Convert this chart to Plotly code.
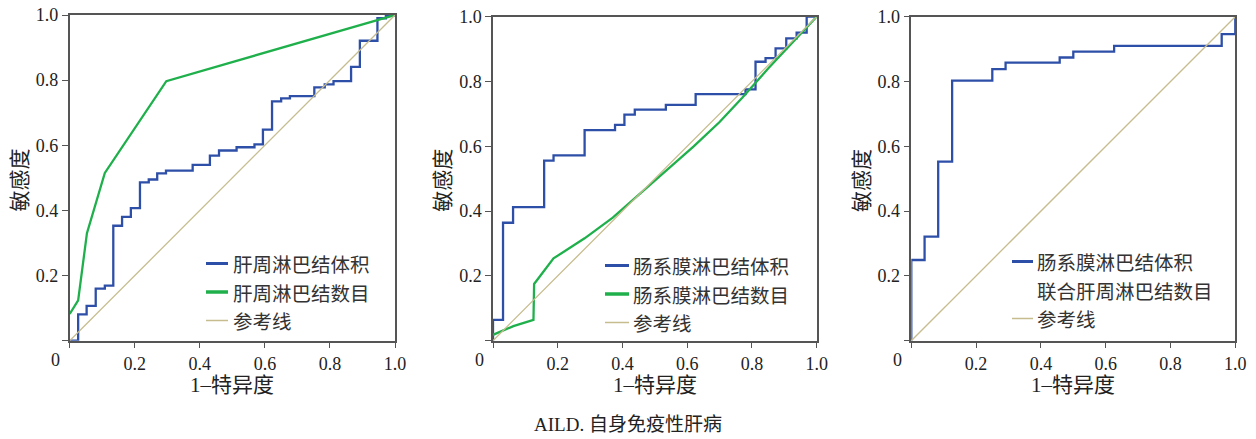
import plotly.graph_objects as go

W, H = 1256, 439

# ---------------- data ----------------
# Panel 1: 肝周淋巴结 (step points for volume, polyline for number)
p1_vol_x = [0, 0.026, 0.052, 0.080, 0.108, 0.134, 0.161, 0.188, 0.216, 0.243, 0.269, 0.296,
            0.378, 0.431, 0.459, 0.513, 0.568, 0.594, 0.622, 0.650, 0.677, 0.752, 0.784,
            0.811, 0.865, 0.892, 0.946, 0.972, 1.0]
p1_vol_y = [0, 0.081, 0.107, 0.160, 0.169, 0.353, 0.380, 0.407, 0.486, 0.495, 0.514, 0.522,
            0.540, 0.568, 0.584, 0.594, 0.603, 0.648, 0.735, 0.744, 0.751, 0.778, 0.787,
            0.797, 0.841, 0.921, 0.990, 0.999, 1.0]
p1_num_x = [0, 0.026, 0.053, 0.108, 0.297, 1.0]
p1_num_y = [0.082, 0.124, 0.330, 0.515, 0.797, 1.0]

# Panel 2: 肠系膜淋巴结
p2_vol_x = [0, 0, 0.031, 0.062, 0.158, 0.187, 0.283, 0.377, 0.406, 0.438, 0.534, 0.626,
            0.780, 0.811, 0.842, 0.873, 0.906, 0.938, 0.969, 1.0]
p2_vol_y = [0, 0.064, 0.364, 0.412, 0.556, 0.572, 0.650, 0.666, 0.698, 0.713, 0.728, 0.761,
            0.776, 0.861, 0.872, 0.902, 0.933, 0.951, 1.0, 1.0]
p2_num_x = [0, 0.063, 0.125, 0.127, 0.187, 0.283, 0.370, 0.450, 0.540, 0.620, 0.700, 0.770,
            0.850, 0.930, 1.0]
p2_num_y = [0.018, 0.045, 0.064, 0.175, 0.254, 0.316, 0.380, 0.450, 0.530, 0.600, 0.675,
            0.750, 0.840, 0.925, 1.0]

# Panel 3: 肠系膜淋巴结体积联合肝周淋巴结数目
p3_comb_x = [0, 0, 0.041, 0.083, 0.126, 0.250, 0.291, 0.458, 0.500, 0.626, 0.958, 1.0]
p3_comb_y = [0, 0.249, 0.321, 0.553, 0.803, 0.838, 0.858, 0.874, 0.892, 0.910, 0.946, 1.0]

ref_x = [0, 1]
ref_y = [0, 1]

tick_vals = [0, 0.2, 0.4, 0.6, 0.8, 1.0]
tick_text = ["", "0.2", "0.4", "0.6", "0.8", "1.0"]

p1_names = ["肝周淋巴结体积", "肝周淋巴结数目", "参考线"]
p2_names = ["肠系膜淋巴结体积", "肠系膜淋巴结数目", "参考线"]
p3_names = ["肠系膜淋巴结体积", "联合肝周淋巴结数目", "参考线"]

y_title = "敏感度"
x_title = "1–特异度"
caption = "AILD. 自身免疫性肝病"

# ---------------- styling ----------------
BLUE = "#2E4FA8"
GREEN = "#1FB04C"
REF = "#C6BC8E"
AXIS = "#555555"
TXT = "#222222"
FONT = "Liberation Serif, Noto Sans CJK SC, serif"
CJK = "Noto Sans CJK SC, sans-serif"
LEG_SIZE = 19.5
LEG_STEP = 28.5

def px(x):
    return x / W

def py(y):
    return 1 - y / H

# panel geometry in pixels: (left, right, top, bottom)
panels = [(69.7, 395.0, 15.0, 340.7), (493.0, 816.7, 16.7, 340.7), (911.3, 1235.3, 16.7, 340.7)]

fig = go.Figure()

def add_line(i, x, y, color, width, shape):
    ax = "" if i == 0 else str(i + 1)
    fig.add_trace(go.Scatter(x=x, y=y, mode="lines", line=dict(color=color, width=width, shape=shape),
                             xaxis="x" + ax, yaxis="y" + ax, showlegend=False, hoverinfo="skip"))

add_line(0, p1_vol_x, p1_vol_y, BLUE, 2.3, "hv")
add_line(0, p1_num_x, p1_num_y, GREEN, 2.3, "linear")
add_line(0, ref_x, ref_y, REF, 1.3, "linear")
add_line(1, p2_vol_x, p2_vol_y, BLUE, 2.3, "hv")
add_line(1, p2_num_x, p2_num_y, GREEN, 2.3, "linear")
add_line(1, ref_x, ref_y, REF, 1.3, "linear")
add_line(2, p3_comb_x, p3_comb_y, BLUE, 2.3, "hv")
add_line(2, ref_x, ref_y, REF, 1.3, "linear")

layout = dict(width=W, height=H, margin=dict(l=0, r=0, t=0, b=0, autoexpand=False),
              paper_bgcolor="white", plot_bgcolor="white", showlegend=False)

annotations = []
shapes = []
for i, (l, r, t, b) in enumerate(panels):
    ax = "" if i == 0 else str(i + 1)
    common = dict(range=[0, 1], tickvals=tick_vals, ticktext=tick_text, ticks="outside",
                  ticklen=6, tickwidth=1.3, tickcolor=AXIS, showline=True, linecolor=AXIS,
                  linewidth=1.5, mirror=True, showgrid=False, zeroline=False, automargin=False,
                  tickfont=dict(family=FONT, size=18, color=TXT), fixedrange=True)
    layout["xaxis" + ax] = dict(domain=[px(l), px(r)], anchor="y" + ax, **common)
    layout["yaxis" + ax] = dict(domain=[py(b), py(t)], anchor="x" + ax, **common)
    # origin label "0"
    annotations.append(dict(text="0", x=px(l - 14), y=py(b + 19), xref="paper", yref="paper",
                            showarrow=False, xanchor="center", yanchor="middle",
                            font=dict(family=FONT, size=18, color=TXT)))
    # axis titles
    annotations.append(dict(text=y_title, x=px(l - 50), y=py((t + b) / 2 + 2), xref="paper", yref="paper",
                            showarrow=False, textangle=-90, xanchor="center", yanchor="middle",
                            font=dict(family=FONT, size=21, color=TXT)))
    annotations.append(dict(text=x_title, x=px((l + r) / 2), y=py(385), xref="paper", yref="paper",
                            showarrow=False, xanchor="center", yanchor="middle",
                            font=dict(family=FONT, size=21, color=TXT)))

# manual legends: (sample x0, x1, text x, centre row y, names, sample styles)
legends = [
    (206, 228, 232, 292, p1_names, [(BLUE, 3), (GREEN, 3.5), (REF, 1.5)]),
    (605, 629, 632, 294, p2_names, [(BLUE, 3), (GREEN, 3.5), (REF, 1.5)]),
    (1012, 1033, 1036, 290, p3_names, [(BLUE, 3), (None, 0), (REF, 1.5)]),
]
for x0, x1, xt, yc, names, styles in legends:
    for k, (color, w) in enumerate(styles):
        yy = yc + (k - 1) * LEG_STEP
        if color is not None:
            shapes.append(dict(type="line", xref="paper", yref="paper", x0=px(x0), x1=px(x1),
                               y0=py(yy), y1=py(yy), line=dict(color=color, width=w)))
        annotations.append(dict(text=names[k], x=px(xt), y=py(yy), xref="paper", yref="paper",
                                showarrow=False, xanchor="left", yanchor="middle",
                                borderpad=0,
                                font=dict(family=CJK, size=LEG_SIZE, color="#333333")))

annotations.append(dict(text=caption, x=px(628), y=py(424), xref="paper", yref="paper",
                        showarrow=False, xanchor="center", yanchor="middle",
                        font=dict(family=FONT, size=19, color=TXT)))

layout["annotations"] = annotations
layout["shapes"] = shapes
fig.update_layout(**layout)

post = ("document.documentElement.style.margin='0';document.documentElement.style.padding='0';"
        "document.body.style.margin='0';document.body.style.padding='0';"
        "document.documentElement.style.overflow='hidden';document.body.style.overflow='hidden';")
fig.write_html("out.html", post_script=post, config={"displayModeBar": False})
